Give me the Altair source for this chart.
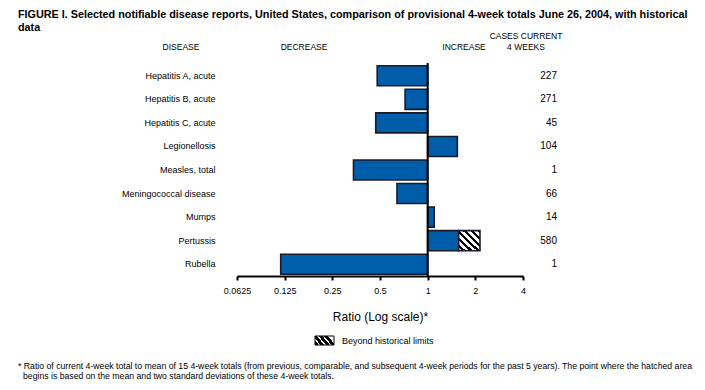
import altair as alt
import pandas as pd

diseases = ["Hepatitis A, acute", "Hepatitis B, acute", "Hepatitis C, acute", "Legionellosis",
            "Measles, total", "Meningococcal disease", "Mumps", "Pertussis", "Rubella"]
ratios = [0.48, 0.72, 0.47, 1.54, 0.34, 0.64, 1.10, 1.57, 0.118]
cases = ["227", "271", "45", "104", "1", "66", "14", "580", "1"]
beyond_disease = ["Pertussis"]
beyond_start = [1.57]
beyond_end = [2.14]
tick_values = [0.0625, 0.125, 0.25, 0.5, 1, 2, 4]

title_lines = ["FIGURE I. Selected notifiable disease reports, United States, comparison of provisional 4-week totals June 26, 2004, with historical",
               "data"]
headers = ["DISEASE", "DECREASE", "INCREASE", "CASES CURRENT", "4 WEEKS"]
x_title = "Ratio (Log scale)*"
legend_label = "Beyond historical limits"
footnotes = ["* Ratio of current 4-week total to mean of 15 4-week totals (from previous, comparable, and subsequent 4-week periods for the past 5 years). The point where the hatched area",
             "begins is based on the mean and two standard deviations of these 4-week totals."]

FONT = "Liberation Sans"
BLUE = "#005DAA"
W, H = 286, 212

df = pd.DataFrame({"disease": diseases, "ratio": ratios, "base": [1.0] * len(diseases), "cases": cases})
dfb = pd.DataFrame({"disease": beyond_disease, "start": beyond_start, "end": beyond_end})

xscale = alt.Scale(type="log", base=2, domain=[0.0625, 4])
yenc = alt.Y("disease:N", sort=diseases, scale=alt.Scale(paddingInner=0.15, paddingOuter=0.075),
             axis=alt.Axis(title=None, ticks=False, domain=False, labelPadding=22, labelFontSize=9,
                           labelFont=FONT, labelColor="black", labelLimit=300))

base = alt.Chart(df)

bars = base.mark_bar(color=BLUE, stroke="#1b1b2b", strokeWidth=1.6).encode(
    x=alt.X("ratio:Q", scale=xscale,
            axis=alt.Axis(values=tick_values, format="~g", title=x_title, titleFont=FONT,
                          titleFontSize=12, titleFontWeight="normal", titleColor="black",
                          titlePadding=16, labelFont=FONT, labelFontSize=9, labelColor="black",
                          labelPadding=6, domainColor="black", domainWidth=2, tickColor="black",
                          tickWidth=2, tickSize=4, grid=False, labelFlush=False)),
    x2="base:Q",
    y=yenc,
)

stripes = []
n = 6
for i in range(n):
    a = i / n
    b = (i + 0.55) / n
    stripes += [alt.GradientStop(offset=a, color="white"), alt.GradientStop(offset=b, color="white"),
                alt.GradientStop(offset=b, color="black"), alt.GradientStop(offset=(i + 1) / n, color="black")]
hatch = alt.LinearGradient(gradient="linear", x1=0, y1=1, x2=1, y2=0, stops=stripes)

hatched = alt.Chart(dfb).mark_bar(fill=hatch, stroke="#1b1b2b", strokeWidth=1.6).encode(
    x=alt.X("start:Q", scale=xscale), x2="end:Q", y=alt.Y("disease:N", sort=diseases))

rule = alt.Chart(pd.DataFrame({"v": [1.0]})).mark_rule(color="black", strokeWidth=2).encode(
    x=alt.X("v:Q", scale=xscale), y=alt.value(-1), y2=alt.value(H))

numbers = base.mark_text(align="right", baseline="middle", font=FONT, fontSize=10, color="black").encode(
    x=alt.value(320), y=alt.Y("disease:N", sort=diseases), text="cases:N")

ann = pd.DataFrame({
    "text": title_lines + headers + [legend_label] + footnotes,
    "px": [-219, -219, -56, 67, 227, 289, 289, 105, -219, -214],
    "py": [-46, -33, -14, -14, -14, -25, -14, 277, 305, 315],
    "align": ["left", "left", "center", "center", "center", "center", "center", "left", "left", "left"],
    "size": [10.8, 10.8, 8.5, 8.5, 8.5, 8.5, 8.5, 9, 8.7, 8.7],
    "weight": ["bold", "bold"] + ["normal"] * 8,
})

def ann_layer(align, weight, size, baseline="alphabetic"):
    d = ann[(ann["align"] == align) & (ann["weight"] == weight) & (ann["size"] == size)]
    return alt.Chart(d).mark_text(align=align, baseline=baseline, font=FONT, fontSize=size,
                                  fontWeight=weight, color="black").encode(
        x=alt.X("px:Q", scale=None), y=alt.Y("py:Q", scale=None), text="text:N")

texts = [
    ann_layer("left", "bold", 10.8),
    ann_layer("center", "normal", 8.5),
    ann_layer("left", "normal", 9, baseline="middle"),
    ann_layer("left", "normal", 8.7),
]

lg_stops = []
m = 4
for i in range(m):
    a = i / m
    b = (i + 0.7) / m
    lg_stops += [alt.GradientStop(offset=a, color="black"), alt.GradientStop(offset=b, color="black"),
                 alt.GradientStop(offset=b, color="white"), alt.GradientStop(offset=(i + 1) / m, color="white")]
lg_hatch = alt.LinearGradient(gradient="linear", x1=0, y1=1, x2=1, y2=0.6, stops=lg_stops)
swatch = alt.Chart(pd.DataFrame({"k": [legend_label]})).mark_rect(fill=lg_hatch, stroke="black", strokeWidth=1).encode(
    x=alt.value(78), x2=alt.value(97), y=alt.value(272), y2=alt.value(281))

chart = alt.layer(bars, hatched, rule, numbers, swatch, *texts).properties(
    width=W, height=H,
    autosize=alt.AutoSizeParams(type="none"),
    padding={"left": 229, "top": 56, "right": 174, "bottom": 106},
    background="white",
).configure_view(stroke=None)

chart.save("out.html", embed_options={"renderer": "svg", "actions": False})
